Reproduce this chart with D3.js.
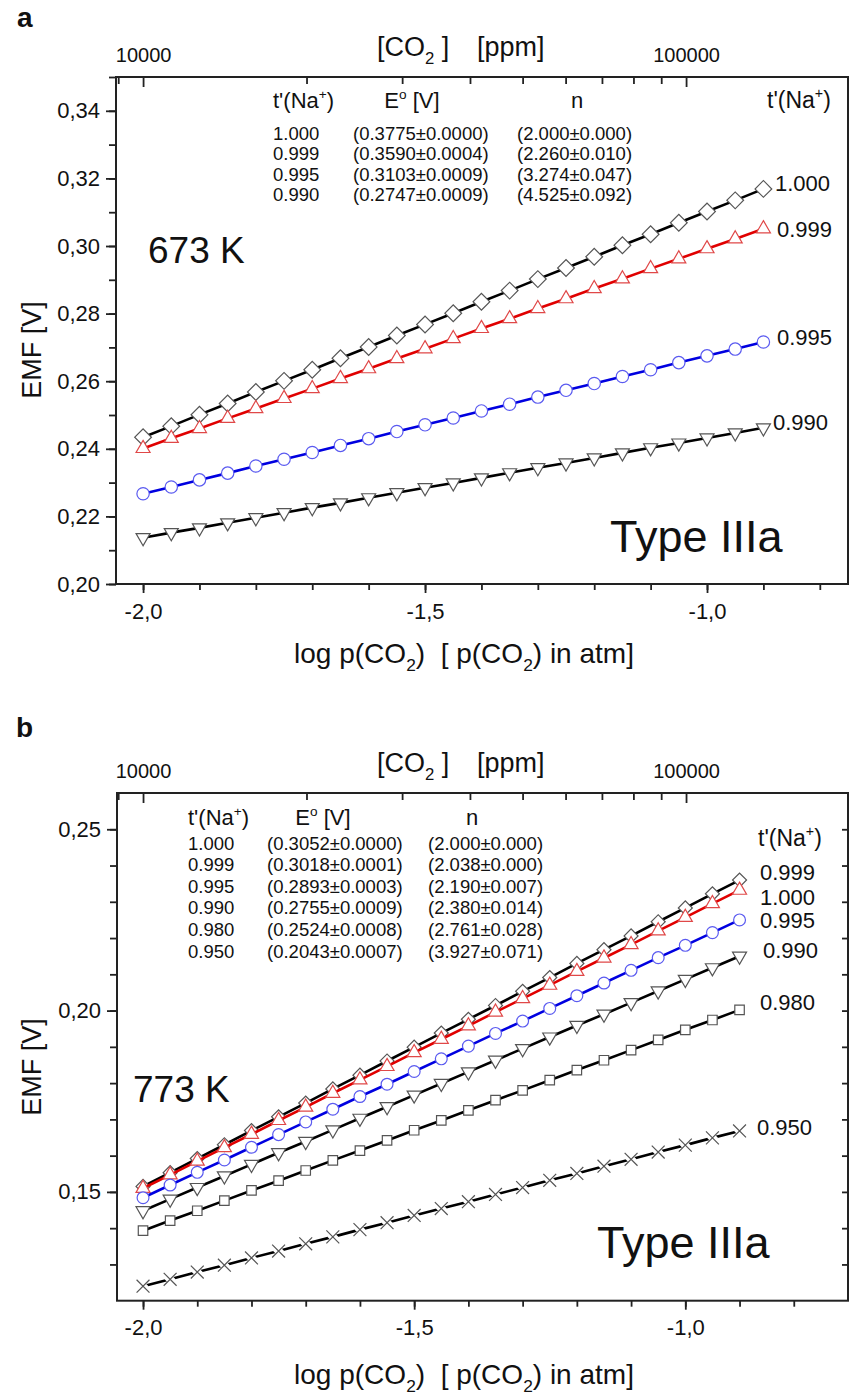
<!DOCTYPE html>
<html>
<head>
<meta charset="utf-8">
<script src="https://cdn.jsdelivr.net/npm/d3@7"></script>
<style>
  body { margin: 0; background: #fff; }
  text { font-family: "Liberation Sans", Arial, sans-serif; fill: #111; }
</style>
</head>
<body>
<div id="chart"></div>
<script>
// x values: log p(CO2)
const logP = [-2.00, -1.95, -1.90, -1.85, -1.80, -1.75, -1.70, -1.65, -1.60, -1.55, -1.50, -1.45,
              -1.40, -1.35, -1.30, -1.25, -1.20, -1.15, -1.10, -1.05, -1.00, -0.95, -0.90];

// panel a, 673 K
const tNa673 = ["1.000", "0.999", "0.995", "0.990"];
const e0_673 = ["(0.3775±0.0000)", "(0.3590±0.0004)", "(0.3103±0.0009)", "(0.2747±0.0009)"];
const n_673  = ["(2.000±0.000)", "(2.260±0.010)", "(3.274±0.047)", "(4.525±0.092)"];
const emf673_1000 = [0.2434, 0.2467, 0.2501, 0.2534, 0.2568, 0.2601, 0.2634, 0.2668, 0.2701, 0.2735, 0.2768, 0.2801,
                     0.2835, 0.2868, 0.2902, 0.2935, 0.2968, 0.3002, 0.3035, 0.3069, 0.3102, 0.3135, 0.3169];
const emf673_0999 = [0.2401, 0.2431, 0.2460, 0.2490, 0.2519, 0.2549, 0.2578, 0.2608, 0.2637, 0.2667, 0.2696, 0.2726,
                     0.2756, 0.2785, 0.2815, 0.2844, 0.2874, 0.2903, 0.2933, 0.2962, 0.2992, 0.3021, 0.3051];
const emf673_0995 = [0.2267, 0.2287, 0.2308, 0.2328, 0.2349, 0.2369, 0.2389, 0.2410, 0.2430, 0.2451, 0.2471, 0.2491,
                     0.2512, 0.2532, 0.2553, 0.2573, 0.2593, 0.2614, 0.2634, 0.2655, 0.2675, 0.2695, 0.2716];
const emf673_0990 = [0.2137, 0.2152, 0.2166, 0.2181, 0.2196, 0.2211, 0.2226, 0.2240, 0.2255, 0.2270, 0.2285, 0.2299,
                     0.2314, 0.2329, 0.2344, 0.2358, 0.2373, 0.2388, 0.2403, 0.2417, 0.2432, 0.2447, 0.2462];

// panel b, 773 K
const tNa773 = ["1.000", "0.999", "0.995", "0.990", "0.980", "0.950"];
const e0_773 = ["(0.3052±0.0000)", "(0.3018±0.0001)", "(0.2893±0.0003)", "(0.2755±0.0009)", "(0.2524±0.0008)", "(0.2043±0.0007)"];
const n_773  = ["(2.000±0.000)", "(2.038±0.000)", "(2.190±0.007)", "(2.380±0.014)", "(2.761±0.028)", "(3.927±0.071)"];
const emf773_1000 = [0.1515, 0.1553, 0.1592, 0.1630, 0.1669, 0.1707, 0.1745, 0.1784, 0.1822, 0.1861, 0.1899, 0.1938,
                     0.1976, 0.2014, 0.2053, 0.2091, 0.2130, 0.2168, 0.2206, 0.2245, 0.2283, 0.2322, 0.2360];
const emf773_0999 = [0.1510, 0.1547, 0.1585, 0.1622, 0.1659, 0.1697, 0.1734, 0.1772, 0.1809, 0.1846, 0.1884, 0.1921,
                     0.1958, 0.1996, 0.2033, 0.2070, 0.2108, 0.2145, 0.2182, 0.2220, 0.2257, 0.2295, 0.2332];
const emf773_0995 = [0.1484, 0.1519, 0.1554, 0.1588, 0.1623, 0.1658, 0.1693, 0.1728, 0.1763, 0.1797, 0.1832, 0.1867,
                     0.1902, 0.1937, 0.1971, 0.2006, 0.2041, 0.2076, 0.2111, 0.2146, 0.2180, 0.2215, 0.2250];
const emf773_0990 = [0.1448, 0.1480, 0.1512, 0.1544, 0.1576, 0.1608, 0.1639, 0.1671, 0.1703, 0.1735, 0.1767, 0.1799,
                     0.1831, 0.1863, 0.1895, 0.1927, 0.1959, 0.1990, 0.2022, 0.2054, 0.2086, 0.2118, 0.2150];
const emf773_0980 = [0.1393, 0.1421, 0.1448, 0.1476, 0.1504, 0.1531, 0.1559, 0.1587, 0.1614, 0.1642, 0.1670, 0.1697,
                     0.1725, 0.1753, 0.1780, 0.1808, 0.1836, 0.1863, 0.1891, 0.1919, 0.1947, 0.1974, 0.2002];
const emf773_0950 = [0.1240, 0.1259, 0.1279, 0.1298, 0.1318, 0.1337, 0.1357, 0.1376, 0.1396, 0.1415, 0.1435, 0.1454,
                     0.1473, 0.1493, 0.1512, 0.1532, 0.1551, 0.1571, 0.1590, 0.1610, 0.1629, 0.1649, 0.1668];

// labels at the line ends (shown order)
const endLabels673 = ["1.000", "0.999", "0.995", "0.990"];
const endLabels773 = ["0.999", "1.000", "0.995", "0.990", "0.980", "0.950"];

const ppmTicks = [9000, 10000, 20000, 30000, 40000, 50000, 60000, 70000, 80000, 90000, 100000, 200000];
const ppmLabels = [10000, 100000];

const loc = d3.formatLocale({decimal: ",", thousands: ".", grouping: [3], currency: ["", ""], minus: "-"});

const svg = d3.select("#chart").append("svg")
    .attr("width", 852)
    .attr("height", 1397);

// text with sub/superscript parts
function richText(parent, x, y, parts, fs, anchor) {
    const t = parent.append("text")
        .attr("x", x)
        .attr("y", y)
        .attr("font-size", fs)
        .attr("text-anchor", anchor || "start")
        .style("white-space", "pre");
    let shift = 0;
    parts.forEach(function(p) {
        const s = p[0], mode = p[1];
        const target = mode === "sup" ? -0.42 * fs : mode === "sub" ? 0.3 * fs : 0;
        t.append("tspan")
            .attr("dy", target - shift)
            .attr("font-size", mode ? fs * 0.62 : fs)
            .text(s);
        shift = target;
    });
    return t;
}

const shapes = {
    diamond: {type: d3.symbolSquare, rot: 45},
    up: {type: d3.symbolTriangle, rot: 0},
    down: {type: d3.symbolTriangle, rot: 180},
    circle: {type: d3.symbolCircle, rot: 0},
    square: {type: d3.symbolSquare, rot: 0},
    cross: {type: d3.symbolTimes || d3.symbolX, rot: 0}
};

function styleAxis(g) {
    g.select(".domain").remove();
    g.selectAll(".tick line").attr("stroke", "#222").attr("stroke-width", 1.8);
    g.selectAll(".tick text").attr("font-family", "Liberation Sans, Arial, sans-serif").attr("fill", "#111");
}

function drawPanel(p) {
    const x = d3.scaleLinear().domain(p.xDomain).range([p.left, p.right]);
    const y = d3.scaleLinear().domain(p.yDomain).range([p.bottom, p.top]);
    const xTop = d3.scaleLog().domain([1e4, 1e5]).range([x(-2), x(-2) + p.topDecade]);
    const g = svg.append("g");

    const xMinor = d3.range(-20, -6).map(v => v / 10).filter(v => v > p.xDomain[0] && v < p.xDomain[1]);
    const xMajor = [-2.0, -1.5, -1.0];
    const fx = loc.format(".1f");
    const fy = loc.format(".2f");

    // bottom axis
    g.append("g").attr("transform", `translate(0,${p.bottom})`)
        .call(d3.axisBottom(x).tickValues(xMinor).tickSize(6).tickFormat(""))
        .call(styleAxis);
    g.append("g").attr("transform", `translate(0,${p.bottom})`)
        .call(d3.axisBottom(x).tickValues(xMajor).tickSize(9).tickPadding(10).tickFormat(fx))
        .call(styleAxis)
        .selectAll("text").attr("font-size", 22);

    // left axis
    g.append("g").attr("transform", `translate(${p.left},0)`)
        .call(d3.axisLeft(y).tickValues(p.yMinor).tickSize(7).tickFormat(""))
        .call(styleAxis);
    g.append("g").attr("transform", `translate(${p.left},0)`)
        .call(d3.axisLeft(y).tickValues(p.yMajor).tickSize(10).tickPadding(6).tickFormat(fy))
        .call(styleAxis)
        .selectAll("text").attr("font-size", 22);

    // top axis, ppm, ticks pointing inward
    const topVals = ppmTicks.filter(v => xTop(v) >= p.left - 0.5 && xTop(v) <= p.right + 0.5);
    g.append("g").attr("transform", `translate(0,${p.top})`)
        .call(d3.axisTop(xTop).tickValues(topVals.filter(v => ppmLabels.indexOf(v) < 0)).tickSize(-7).tickFormat(""))
        .call(styleAxis);
    g.append("g").attr("transform", `translate(0,${p.top})`)
        .call(d3.axisTop(xTop).tickValues(ppmLabels).tickSize(-10).tickPadding(15).tickFormat(d3.format("d")))
        .call(styleAxis)
        .selectAll("text").attr("font-size", 20);

    // right axis (only some panels)
    if (p.rightTicks) {
        g.append("g").attr("transform", `translate(${p.right},0)`)
            .call(d3.axisRight(y).tickValues(p.yMinor).tickSize(-6).tickFormat(""))
            .call(styleAxis);
    }

    // frame
    g.append("rect")
        .attr("x", p.left).attr("y", p.top)
        .attr("width", p.right - p.left).attr("height", p.bottom - p.top)
        .attr("fill", "none").attr("stroke", "#222").attr("stroke-width", 2);

    // series
    const line = d3.line().x((d, i) => x(logP[i])).y(d => y(d));
    p.series.forEach(function(s) {
        g.append("path")
            .datum(s.values)
            .attr("d", line)
            .attr("fill", "none")
            .attr("stroke", s.line)
            .attr("stroke-width", 2.6);
        const sh = shapes[s.shape];
        if (s.shape === "cross") {
            // white patch so the line breaks at each cross
            g.selectAll(null)
                .data(s.values)
                .join("path")
                .attr("transform", (d, i) => `translate(${x(logP[i])},${y(d)}) rotate(45)`)
                .attr("d", d3.symbol().type(d3.symbolSquare).size(s.size * 0.55))
                .attr("fill", "#fff");
        }
        g.selectAll(null)
            .data(s.values)
            .join("path")
            .attr("transform", (d, i) => `translate(${x(logP[i])},${y(d)}) rotate(${sh.rot})`)
            .attr("d", d3.symbol().type(sh.type).size(s.size))
            .attr("fill", s.shape === "cross" ? "none" : "#fff")
            .attr("stroke", s.mark)
            .attr("stroke-width", 1.2);
    });

    // panel letter
    g.append("text").attr("x", p.letterX).attr("y", p.letterY)
        .attr("font-size", 28).attr("font-weight", "bold").text(p.letter);

    // top title
    richText(g, 377, p.topTitleY, [["[CO"], ["2", "sub"], [" ]"]], 27);
    g.append("text").attr("x", 477).attr("y", p.topTitleY)
        .attr("font-size", 27).text("[ppm]");

    // bottom title
    richText(g, 464, p.bottomTitleY,
        [["log p(CO"], ["2", "sub"], [")  [ p(CO"], ["2", "sub"], [") in atm]"]], 28, "middle");

    // y title
    g.append("text")
        .attr("transform", `translate(${p.yTitleX},${p.yTitleY}) rotate(-90)`)
        .attr("text-anchor", "middle")
        .attr("font-size", 27)
        .text("EMF [V]");

    // table
    richText(g, p.tabCols[0], p.tabHeadY, [["t'(Na"], ["+", "sup"], [")"]], 22);
    richText(g, p.tabHeadE, p.tabHeadY, [["E"], ["o", "sup"], [" [V]"]], 22, "middle");
    g.append("text").attr("x", p.tabHeadN).attr("y", p.tabHeadY)
        .attr("font-size", 22).attr("text-anchor", "middle").text("n");
    p.tNa.forEach(function(t, i) {
        const yy = p.tabRow0 + i * p.tabRowStep;
        [t, p.e0[i], p.n[i]].forEach(function(s, c) {
            g.append("text").attr("x", p.tabCols[c]).attr("y", yy)
                .attr("font-size", 18.5).text(s);
        });
    });

    // end labels
    richText(g, p.endHeadX, p.endHeadY, [["t'(Na"], ["+", "sup"], [")"]], 23);
    p.endLabels.forEach(function(l, i) {
        g.append("text").attr("x", p.endX[i]).attr("y", p.endY[i])
            .attr("font-size", 22).text(l);
    });

    // temperature and type
    g.append("text").attr("x", p.tempX).attr("y", p.tempY)
        .attr("font-size", 37).text(p.temp);
    g.append("text").attr("x", p.typeX).attr("y", p.typeY)
        .attr("font-size", 45).text("Type IIIa");
}

drawPanel({
    letter: "a", letterX: 17, letterY: 27,
    left: 116, right: 848, top: 77, bottom: 584,
    xDomain: [-2.048, -0.75], yDomain: [0.20, 0.35],
    yMajor: [0.20, 0.22, 0.24, 0.26, 0.28, 0.30, 0.32, 0.34],
    yMinor: d3.range(20, 36).map(v => v / 100),
    topDecade: 543, rightTicks: false,
    topTitleY: 56, bottomTitleY: 663, yTitleX: 41, yTitleY: 350,
    tNa: tNa673, e0: e0_673, n: n_673,
    tabCols: [273, 353, 517], tabHeadY: 108, tabHeadE: 412, tabHeadN: 577,
    tabRow0: 140, tabRowStep: 20.3,
    endHeadX: 767, endHeadY: 108,
    endLabels: endLabels673, endX: [775, 777, 777, 773], endY: [191, 237, 345, 430],
    temp: "673 K", tempX: 148, tempY: 263,
    typeX: 610, typeY: 552,
    series: [
        {values: emf673_1000, shape: "diamond", size: 140, line: "#000", mark: "#555"},
        {values: emf673_0999, shape: "up", size: 85, line: "#e00000", mark: "#e04848"},
        {values: emf673_0995, shape: "circle", size: 120, line: "#0000e0", mark: "#5a5af0"},
        {values: emf673_0990, shape: "down", size: 85, line: "#000", mark: "#555"}
    ]
});

drawPanel({
    letter: "b", letterX: 16, letterY: 737,
    left: 117, right: 848, top: 793, bottom: 1300.7,
    xDomain: [-2.048, -0.70], yDomain: [0.12, 0.26],
    yMajor: [0.15, 0.20, 0.25],
    yMinor: d3.range(13, 26).map(v => v / 100),
    topDecade: 543, rightTicks: true,
    topTitleY: 772, bottomTitleY: 1384, yTitleX: 41, yTitleY: 1067,
    tNa: tNa773, e0: e0_773, n: n_773,
    tabCols: [188, 267, 428], tabHeadY: 825, tabHeadE: 323, tabHeadN: 472,
    tabRow0: 849.5, tabRowStep: 21.6,
    endHeadX: 758, endHeadY: 846,
    endLabels: endLabels773, endX: [760, 760, 760, 763, 760, 757], endY: [880, 905, 928, 958, 1010, 1135],
    temp: "773 K", tempX: 133, tempY: 1102,
    typeX: 597, typeY: 1258,
    series: [
        {values: emf773_1000, shape: "diamond", size: 98, line: "#000", mark: "#555"},
        {values: emf773_0999, shape: "up", size: 85, line: "#e00000", mark: "#e04848"},
        {values: emf773_0995, shape: "circle", size: 110, line: "#0000e0", mark: "#5a5af0"},
        {values: emf773_0990, shape: "down", size: 85, line: "#000", mark: "#555"},
        {values: emf773_0980, shape: "square", size: 90, line: "#000", mark: "#555"},
        {values: emf773_0950, shape: "cross", size: 110, line: "#000", mark: "#555"}
    ]
});
</script>
</body>
</html>
